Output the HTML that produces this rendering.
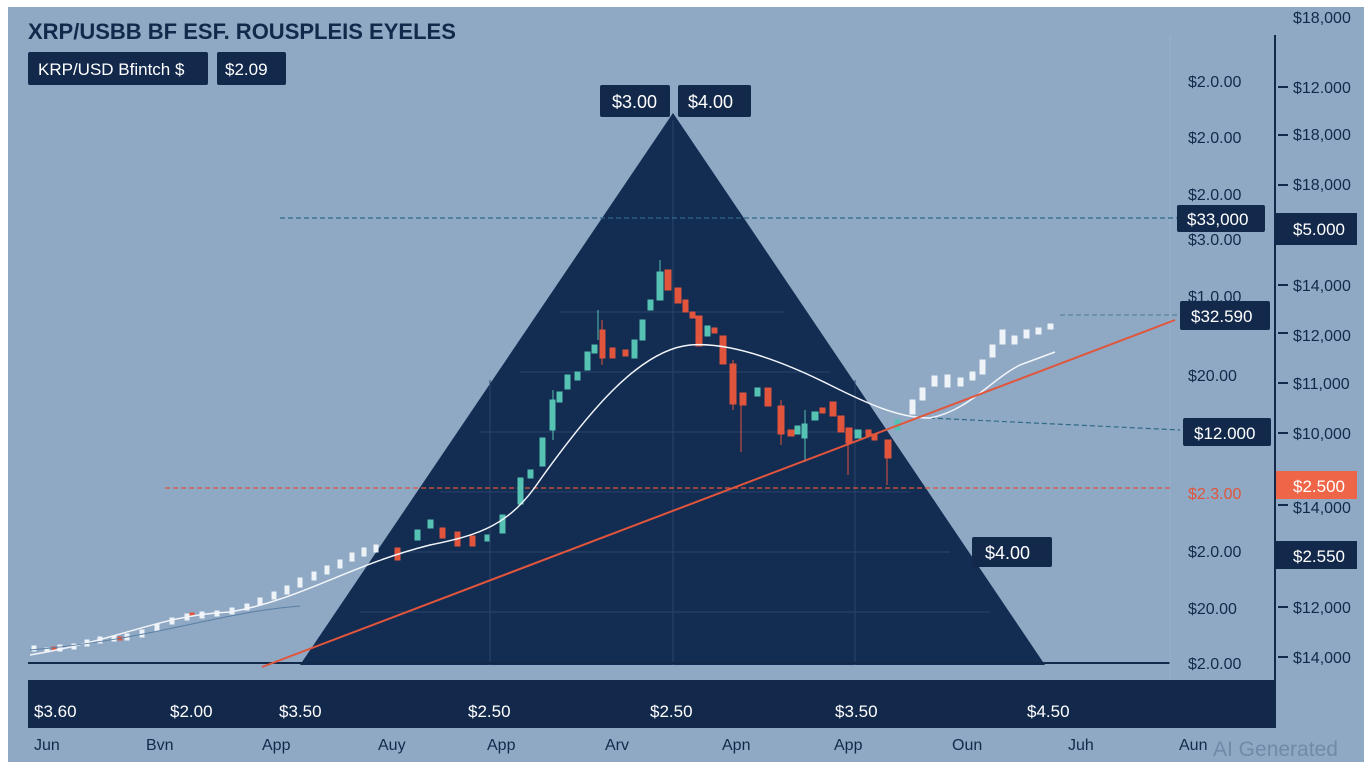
<!DOCTYPE html>
<html><head><meta charset="utf-8"><style>
html,body{margin:0;padding:0;background:#fff;}
svg{display:block;font-family:"Liberation Sans",sans-serif;}
</style></head><body>
<svg width="1368" height="768" viewBox="0 0 1368 768" xmlns="http://www.w3.org/2000/svg">
<rect x="0" y="0" width="1368" height="768" fill="#ffffff"/>
<rect x="8" y="7" width="1356" height="755" fill="#8fa8c4"/>
<polygon points="673,113 300,665 1045,665" fill="#132c52"/>
<g stroke="#2a4469" stroke-width="1">
<line x1="490" y1="380" x2="490" y2="665"/><line x1="673" y1="120" x2="673" y2="665"/><line x1="855" y1="380" x2="855" y2="665"/>
<line x1="560" y1="312" x2="785" y2="312"/><line x1="520" y1="372" x2="830" y2="372"/><line x1="480" y1="432" x2="870" y2="432"/><line x1="440" y1="492" x2="910" y2="492"/><line x1="400" y1="552" x2="950" y2="552"/><line x1="360" y1="612" x2="990" y2="612"/>
</g>
<line x1="28" y1="663" x2="1170" y2="663" stroke="#13294b" stroke-width="2"/>
<line x1="1170" y1="35" x2="1170" y2="680" stroke="#9ab0ca" stroke-width="1"/>
<rect x="28" y="680" width="1247" height="48" fill="#13294b"/>
<line x1="1275" y1="35" x2="1275" y2="728" stroke="#13294b" stroke-width="2"/>
<g stroke="#13294b" stroke-width="2">
<line x1="1278" y1="87" x2="1288" y2="87"/><line x1="1278" y1="135" x2="1288" y2="135"/><line x1="1278" y1="185" x2="1288" y2="185"/><line x1="1278" y1="230" x2="1288" y2="230"/><line x1="1278" y1="285" x2="1288" y2="285"/><line x1="1278" y1="333" x2="1288" y2="333"/><line x1="1278" y1="383" x2="1288" y2="383"/><line x1="1278" y1="433" x2="1288" y2="433"/><line x1="1278" y1="505" x2="1288" y2="505"/><line x1="1278" y1="555" x2="1288" y2="555"/><line x1="1278" y1="607" x2="1288" y2="607"/><line x1="1278" y1="657" x2="1288" y2="657"/>
</g>
<line x1="280" y1="218" x2="1180" y2="218" stroke="#2f6a86" stroke-width="1.2" stroke-dasharray="5,3"/>
<line x1="165" y1="488" x2="1170" y2="488" stroke="#e0553c" stroke-width="1.2" stroke-dasharray="5,3"/>
<line x1="1060" y1="315" x2="1180" y2="315" stroke="#4a7a96" stroke-width="1" stroke-dasharray="5,3"/>
<line x1="930" y1="418" x2="1180" y2="430" stroke="#2f6a86" stroke-width="1.2" stroke-dasharray="5,3"/>
<g stroke-width="1">
<g fill="#eef3f8" stroke="#eef3f8">
<rect x="32" y="646" width="4" height="5"/><rect x="45" y="648" width="4" height="4"/><rect x="58" y="645" width="4" height="6"/><rect x="72" y="644" width="4" height="5"/><rect x="85" y="640" width="4" height="6"/><rect x="98" y="637" width="4" height="6"/><rect x="112" y="636" width="4" height="5"/><rect x="125" y="634" width="4" height="6"/><rect x="140" y="630" width="4" height="7"/><rect x="155" y="624" width="4" height="7"/><rect x="170" y="618" width="4" height="6"/><rect x="185" y="614" width="4" height="6"/><rect x="200" y="612" width="4" height="6"/><rect x="215" y="611" width="4" height="5"/><rect x="230" y="608" width="4" height="6"/><rect x="245" y="604" width="4" height="6"/><rect x="258" y="598" width="4" height="7"/><rect x="272" y="592" width="4" height="7"/><rect x="285" y="586" width="4" height="8"/><rect x="298" y="578" width="4" height="9"/><rect x="312" y="572" width="4" height="8"/><rect x="325" y="566" width="4" height="8"/><rect x="338" y="560" width="4" height="8"/><rect x="350" y="553" width="4" height="8"/><rect x="362" y="548" width="4" height="8"/><rect x="374" y="545" width="4" height="7"/>
<rect x="910" y="400" width="5" height="14"/><rect x="920" y="388" width="5" height="12"/><rect x="932" y="376" width="5" height="10"/><rect x="945" y="375" width="5" height="12"/><rect x="958" y="378" width="5" height="8"/><rect x="970" y="372" width="5" height="8"/><rect x="980" y="360" width="5" height="14"/><rect x="990" y="345" width="5" height="12"/><rect x="1000" y="330" width="5" height="14"/><rect x="1012" y="336" width="5" height="8"/><rect x="1024" y="330" width="5" height="8"/><rect x="1036" y="328" width="5" height="6"/><rect x="1048" y="324" width="5" height="5"/>
</g>
<g fill="#e0553c" stroke="#e0553c">
<rect x="52" y="647" width="4" height="3"/><rect x="118" y="637" width="4" height="3"/><rect x="190" y="613" width="4" height="3"/><rect x="395" y="548" width="5" height="12"/><rect x="440" y="528" width="5" height="10"/><rect x="455" y="532" width="5" height="14"/><rect x="470" y="536" width="5" height="10"/>
<rect x="600" y="330" width="5" height="28"/><rect x="610" y="348" width="5" height="10"/><rect x="623" y="350" width="5" height="6"/><rect x="665" y="270" width="6" height="20"/><rect x="675" y="288" width="6" height="15"/><rect x="683" y="300" width="5" height="12"/><rect x="690" y="312" width="5" height="6"/><rect x="696" y="316" width="6" height="30"/><rect x="712" y="328" width="5" height="5"/><rect x="720" y="336" width="6" height="28"/><rect x="730" y="364" width="6" height="40"/><rect x="740" y="393" width="6" height="12"/><rect x="765" y="388" width="6" height="18"/><rect x="778" y="406" width="6" height="28"/><rect x="788" y="430" width="6" height="6"/><rect x="820" y="408" width="5" height="5"/><rect x="830" y="402" width="6" height="14"/><rect x="838" y="416" width="6" height="16"/><rect x="846" y="428" width="6" height="15"/><rect x="866" y="430" width="5" height="6"/><rect x="872" y="434" width="5" height="6"/><rect x="885" y="440" width="6" height="18"/>
<line x1="741" y1="400" x2="741" y2="452"/><line x1="848" y1="430" x2="848" y2="475"/><line x1="887" y1="440" x2="887" y2="485"/><line x1="602" y1="320" x2="602" y2="365"/><line x1="733" y1="360" x2="733" y2="410"/><line x1="781" y1="400" x2="781" y2="445"/>
</g>
<g fill="#56c2b4" stroke="#56c2b4">
<rect x="415" y="530" width="5" height="10"/><rect x="428" y="520" width="5" height="8"/><rect x="485" y="535" width="4" height="6"/><rect x="500" y="515" width="5" height="18"/><rect x="518" y="478" width="5" height="26"/><rect x="528" y="470" width="5" height="8"/><rect x="540" y="438" width="5" height="28"/><rect x="550" y="400" width="5" height="30"/><rect x="557" y="392" width="5" height="10"/><rect x="565" y="375" width="5" height="14"/><rect x="575" y="372" width="5" height="8"/><rect x="585" y="352" width="5" height="18"/><rect x="592" y="345" width="5" height="8"/><rect x="632" y="340" width="5" height="18"/><rect x="640" y="320" width="5" height="20"/><rect x="648" y="300" width="5" height="10"/><rect x="657" y="272" width="6" height="28"/><rect x="705" y="326" width="5" height="10"/><rect x="755" y="388" width="5" height="8"/><rect x="795" y="426" width="5" height="8"/><rect x="802" y="424" width="5" height="14"/><rect x="812" y="412" width="6" height="8"/><rect x="855" y="430" width="6" height="8"/><rect x="895" y="420" width="5" height="10"/>
<line x1="598" y1="310" x2="598" y2="340"/><line x1="660" y1="260" x2="660" y2="300"/><line x1="805" y1="410" x2="805" y2="462"/><line x1="553" y1="390" x2="553" y2="440"/>
</g>
</g>
<path d="M30,655 C120,640 160,615 230,612 C300,600 350,565 430,545 C480,535 510,525 540,480 C590,410 640,350 690,345 C730,342 780,360 830,385 C870,405 900,418 930,418 C970,410 990,380 1020,365 L1055,352" fill="none" stroke="#f2f5fa" stroke-width="1.5"/>
<path d="M30,650 C150,640 220,612 300,606" fill="none" stroke="#5a7fa4" stroke-width="1"/>
<line x1="262" y1="667" x2="1175" y2="320" stroke="#e0553c" stroke-width="2"/>
<text x="28" y="39" font-size="22" font-weight="bold" fill="#13294b">XRP/USBB BF ESF. ROUSPLEIS EYELES</text>
<rect x="28" y="52" width="180" height="33" rx="2" fill="#13294b"/>
<text x="38" y="75" font-size="17" fill="#ffffff">KRP/USD Bfintch $</text>
<rect x="217" y="52" width="69" height="33" rx="2" fill="#13294b"/>
<text x="225" y="75" font-size="17" fill="#ffffff">$2.09</text>
<rect x="600" y="85" width="70" height="32" rx="2" fill="#13294b"/>
<text x="612" y="108" font-size="18" fill="#ffffff">$3.00</text>
<rect x="678" y="85" width="73" height="32" rx="2" fill="#13294b"/>
<text x="688" y="108" font-size="18" fill="#ffffff">$4.00</text>
<rect x="972" y="537" width="80" height="30" rx="2" fill="#13294b"/>
<text x="985" y="559" font-size="18" fill="#ffffff">$4.00</text>
<g font-size="16" fill="#13294b">
<text x="1188" y="87">$2.0.00</text><text x="1188" y="143">$2.0.00</text><text x="1188" y="200">$2.0.00</text><text x="1188" y="245">$3.0.00</text><text x="1188" y="302">$1.0.00</text><text x="1188" y="381">$20.00</text><text x="1188" y="557">$2.0.00</text><text x="1188" y="614">$20.00</text><text x="1188" y="669">$2.0.00</text>
<text x="1188" y="499" fill="#e0553c">$2.3.00</text>
</g>
<rect x="1177" y="205" width="88" height="27" rx="2" fill="#13294b"/><text x="1187" y="225" font-size="17" fill="#fff">$33,000</text>
<rect x="1180" y="301" width="90" height="29" rx="2" fill="#13294b"/><text x="1191" y="322" font-size="17" fill="#fff">$32.590</text>
<rect x="1183" y="418" width="88" height="28" rx="2" fill="#13294b"/><text x="1194" y="439" font-size="17" fill="#fff">$12.000</text>
<g font-size="16" fill="#13294b">
<text x="1293" y="23">$18,000</text><text x="1293" y="93">$12.000</text><text x="1293" y="140">$18,000</text><text x="1293" y="190">$18,000</text><text x="1293" y="291">$14,000</text><text x="1293" y="341">$12,000</text><text x="1293" y="389">$11,000</text><text x="1293" y="439">$10,000</text><text x="1293" y="513">$14,000</text><text x="1293" y="613">$12,000</text><text x="1293" y="663">$14,000</text>
</g>
<rect x="1276" y="213" width="81" height="32" fill="#13294b"/><text x="1293" y="235" font-size="17" fill="#fff">$5.000</text>
<rect x="1276" y="471" width="81" height="28" fill="#ee6547"/><text x="1293" y="492" font-size="17" fill="#fff">$2.500</text>
<rect x="1276" y="541" width="81" height="28" fill="#13294b"/><text x="1293" y="562" font-size="17" fill="#fff">$2.550</text>
<g font-size="17" fill="#ffffff">
<text x="34" y="717">$3.60</text><text x="170" y="717">$2.00</text><text x="279" y="717">$3.50</text><text x="468" y="717">$2.50</text><text x="650" y="717">$2.50</text><text x="835" y="717">$3.50</text><text x="1027" y="717">$4.50</text>
</g>
<g font-size="16" fill="#13294b">
<text x="34" y="750">Jun</text><text x="146" y="750">Bvn</text><text x="262" y="750">App</text><text x="378" y="750">Auy</text><text x="487" y="750">App</text><text x="605" y="750">Arv</text><text x="722" y="750">Apn</text><text x="834" y="750">App</text><text x="952" y="750">Oun</text><text x="1068" y="750">Juh</text><text x="1179" y="750">Aun</text>
</g>
<text x="1213" y="756" font-size="21" fill="#6b82a0" opacity="0.8">AI Generated</text>
</svg>
</body></html>
